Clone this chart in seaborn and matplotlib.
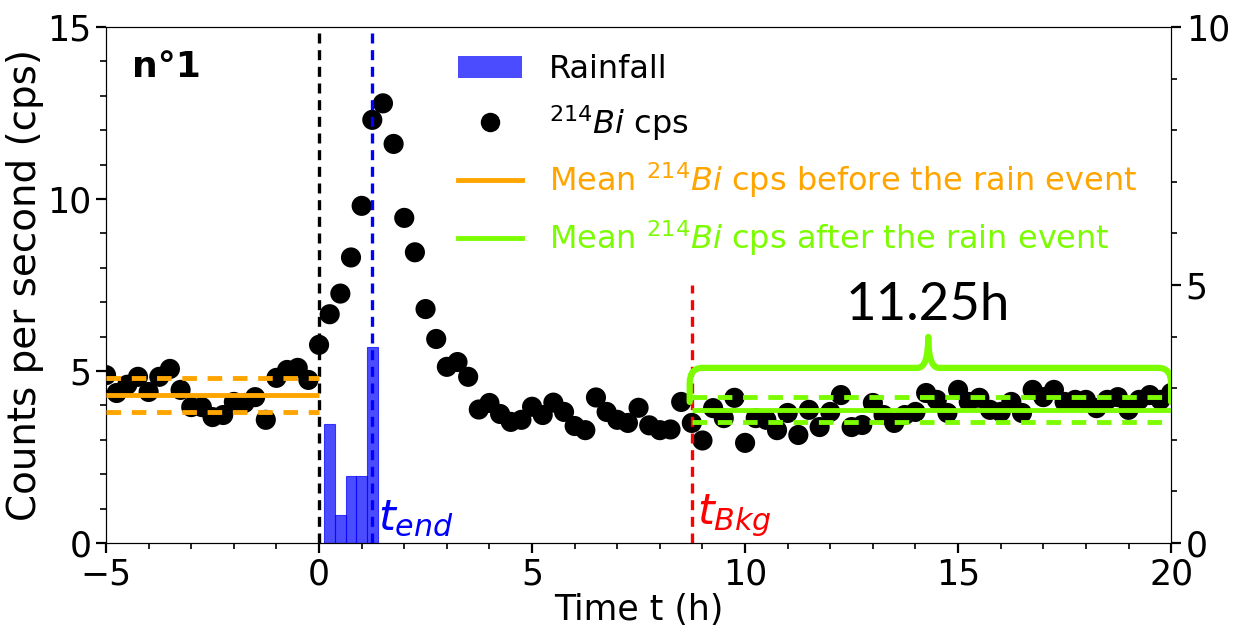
import numpy as np
import pandas as pd
import matplotlib
matplotlib.use("Agg")
import matplotlib.pyplot as plt
import seaborn as sns
from matplotlib.path import Path
from matplotlib.patches import PathPatch, Patch
from matplotlib.lines import Line2D
from matplotlib.ticker import MultipleLocator

# 214Bi count rate, sampled every 15 min from -5 h to 20 h
t_start, t_step = -5.0, 0.25
bi_cps = [
    4.88, 4.36, 4.60, 4.83, 4.39, 4.83, 5.06, 4.45, 3.95, 3.95,
    3.66, 3.72, 4.10, 4.07, 4.24, 3.58, 4.80, 5.03, 5.09, 4.74,
    5.76, 6.65, 7.25, 8.30, 9.80, 12.30, 12.78, 11.60, 9.45, 8.45,
    6.80, 5.93, 5.12, 5.26, 4.83, 3.88, 4.07, 3.75, 3.52, 3.58,
    3.96, 3.72, 4.08, 3.81, 3.40, 3.28, 4.23, 3.81, 3.58, 3.49,
    3.93, 3.42, 3.28, 3.30, 4.10, 3.49, 2.98, 3.92, 3.63, 4.22,
    2.91, 3.63, 3.58, 3.28, 3.78, 3.14, 3.87, 3.37, 3.81, 4.30,
    3.37, 3.43, 4.07, 3.72, 3.49, 3.72, 3.81, 4.36, 4.16, 3.78,
    4.45, 4.10, 4.22, 3.87, 3.81, 4.10, 3.78, 4.45, 4.24, 4.45,
    4.10, 4.16, 4.16, 3.92, 4.16, 4.24, 3.87, 4.16, 4.30, 4.16,
    4.36,
]
time_h = t_start + t_step * np.arange(len(bi_cps))

# Rainfall (right axis), 15-min accumulations
rain_t = [0.25, 0.50, 0.75, 1.00, 1.25]
rain_mm = [2.30, 0.55, 1.30, 1.30, 3.80]

# Background statistics before / after the rain event
mean_before, sd_before = 4.30, 0.50
mean_after, sd_after = 3.88, 0.36
t_rain_start, t_end, t_bkg, t_stop = 0.0, 1.25, 8.75, 20.0
bkg_duration_label = "11.25h"

ORANGE = "orange"
GREEN = "#7cfc00"

plt.rcParams["font.family"] = ["DejaVu Sans"]
plt.rcParams["mathtext.fontset"] = "dejavusans"
plt.rcParams["xtick.major.size"] = 7
plt.rcParams["ytick.major.size"] = 7
plt.rcParams["xtick.minor.size"] = 4
plt.rcParams["ytick.minor.size"] = 4
plt.rcParams["xtick.major.width"] = 1.6
plt.rcParams["ytick.major.width"] = 1.6
plt.rcParams["xtick.minor.width"] = 1.2
plt.rcParams["ytick.minor.width"] = 1.2

fig = plt.figure(figsize=(12.33, 6.33), dpi=100)
ax = fig.add_axes([0.086, 0.1422, 0.8638, 0.8152])
ax2 = ax.twinx()
ax.set_zorder(ax2.get_zorder() + 1)
ax.patch.set_visible(False)

# rainfall bars
ax2.bar(rain_t, rain_mm, width=0.25, color="blue", alpha=0.7, edgecolor="blue", linewidth=0.8)
ax2.set_ylim(0, 10)
ax2.set_yticks([0, 5, 10])
ax2.yaxis.set_minor_locator(MultipleLocator(1))
ax2.tick_params(axis="y", labelsize=25)

# count rate
df = pd.DataFrame({"t": time_h, "cps": bi_cps})
sns.scatterplot(data=df, x="t", y="cps", ax=ax, color="black", s=210,
                edgecolor="none", zorder=3, legend=False)

# event markers
ax.axvline(t_rain_start, color="black", ls=(0, (3, 2)), lw=2.4, zorder=4)
ax.axvline(t_end, color="blue", ls=(0, (3, 2)), lw=2.4, zorder=4)
ax.plot([t_bkg, t_bkg], [0, 7.5], color="red", ls=(0, (3, 2)), lw=2.4, zorder=4)

# mean levels
ax.hlines(mean_before, -5, t_rain_start, color=ORANGE, lw=3.5, zorder=5)
ax.hlines([mean_before - sd_before, mean_before + sd_before], -5, t_rain_start,
          color=ORANGE, lw=3.5, ls=(0, (3, 2.2)), zorder=5)
ax.hlines(mean_after, t_bkg, t_stop, color=GREEN, lw=3.5, zorder=5)
ax.hlines([mean_after - sd_after, mean_after + sd_after], t_bkg, t_stop,
          color=GREEN, lw=3.5, ls=(0, (3, 2.2)), zorder=5)

# curly brace over the background window
x0, x1 = t_bkg - 0.05, t_stop
xc = 0.5 * (x0 + x1) - 0.05
yb, yt, ytip = 4.10, 5.09, 5.99
dx, dy = 0.30, 0.45
verts = [
    (x0, yb), (x0, yt - dy), (x0, yt), (x0 + dx, yt),
    (xc - 0.25, yt), (xc, yt), (xc, ytip),
    (xc, yt), (xc + 0.25, yt),
    (x1 - dx, yt), (x1, yt), (x1, yt - dy), (x1, yb),
]
codes = [Path.MOVETO, Path.LINETO, Path.CURVE3, Path.CURVE3,
         Path.LINETO, Path.CURVE3, Path.CURVE3,
         Path.CURVE3, Path.CURVE3,
         Path.LINETO, Path.CURVE3, Path.CURVE3, Path.LINETO]
ax.add_patch(PathPatch(Path(verts, codes), fill=False, edgecolor=GREEN, lw=4.5,
                       capstyle="round", joinstyle="round", zorder=6))
ax.text(xc, 6.9, bkg_duration_label, fontsize=38, family="Lato",
        ha="center", va="center", zorder=7)

# annotations
ax.text(1.38, 0.12, r"$t_{end}$", color="blue", fontsize=31, ha="left", va="bottom")
ax.text(8.88, 0.12, r"$t_{Bkg}$", color="red", fontsize=31, ha="left", va="bottom")
ax.text(-4.4, 13.85, "n°1", fontsize=26, fontweight="bold", ha="left", va="center")

ax.set_xlim(-5, 20)
ax.set_ylim(0, 15)
ax.set_xticks([-5, 0, 5, 10, 15, 20])
ax.set_yticks([0, 5, 10, 15])
ax.xaxis.set_minor_locator(MultipleLocator(1))
ax.yaxis.set_minor_locator(MultipleLocator(1))
ax.tick_params(axis="both", labelsize=25)
ax.set_xlabel("Time t (h)", fontsize=25, labelpad=1)
ax.set_ylabel("Counts per second (cps)", fontsize=28, labelpad=2)

handles = [
    Patch(facecolor="blue", alpha=0.7, edgecolor="none"),
    Line2D([], [], marker="o", ls="none", color="black", markersize=13),
    Line2D([], [], color=ORANGE, lw=3.5),
    Line2D([], [], color=GREEN, lw=3.5),
]
labels = [
    "Rainfall",
    r"$^{214}Bi$ cps",
    r"Mean $^{214}Bi$ cps before the rain event",
    r"Mean $^{214}Bi$ cps after the rain event",
]
leg = ax.legend(handles, labels, loc="upper left", bbox_to_anchor=(0.348, 0.96),
                bbox_transform=fig.transFigure, frameon=False, fontsize=23,
                handlelength=2.0, handletextpad=0.85, labelspacing=0.56)
for txt, col in zip(leg.get_texts(), ["black", "black", ORANGE, GREEN]):
    txt.set_color(col)

fig.savefig("out.png", dpi=100)
